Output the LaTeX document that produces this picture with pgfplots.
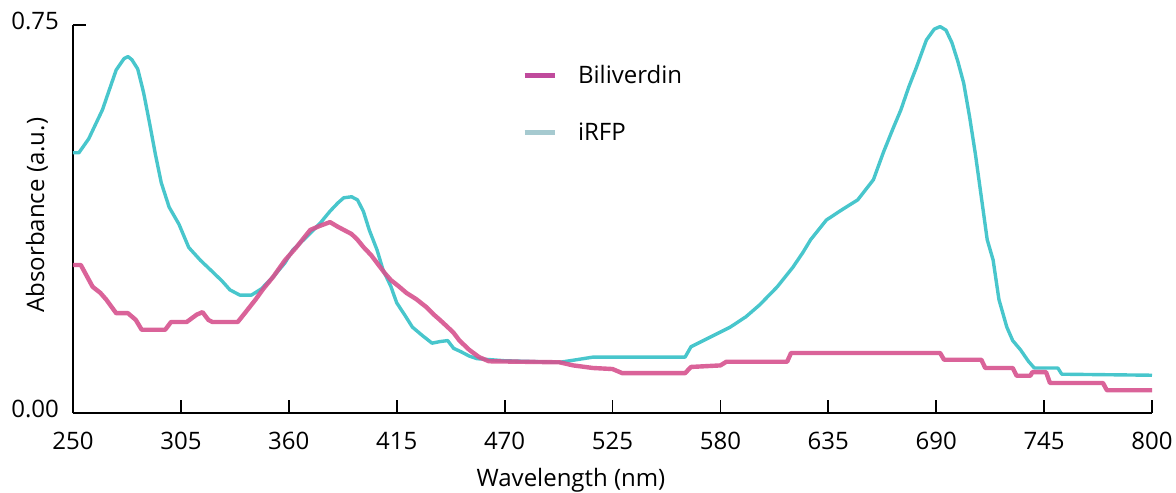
\documentclass[border=0pt]{standalone}
\usepackage{fontspec}
\setmainfont{Open Sans}
\usepackage{pgfplots}
\pgfplotsset{compat=1.18}
\usetikzlibrary{calc}

\definecolor{bvpink}{RGB}{214,82,142}
\definecolor{rfpcyan}{RGB}{72,198,204}
\definecolor{legpink}{RGB}{192,74,156}
\definecolor{legcyan}{RGB}{166,202,208}

\pgfplotstableread{
x y
250 0.503
253 0.503
258 0.530
265 0.586
272 0.663
276 0.685
278 0.689
280 0.683
283 0.665
286 0.619
289 0.561
292 0.500
295 0.445
299 0.398
304 0.365
309 0.320
315 0.295
320 0.277
326 0.255
330 0.238
335 0.228
341 0.228
346 0.240
352 0.263
358 0.290
362 0.315
369 0.340
376 0.367
381 0.390
385 0.406
388 0.416
392 0.418
395 0.412
398 0.390
401 0.354
405 0.315
408 0.277
412 0.245
415 0.213
419 0.190
423 0.166
428 0.150
433 0.135
437 0.138
441 0.140
444 0.125
448 0.118
452 0.110
456 0.105
470 0.101
498 0.098
505 0.102
515 0.108
540 0.108
562 0.108
565 0.128
575 0.147
585 0.166
593 0.186
600 0.209
609 0.244
617 0.282
622 0.310
626 0.335
634 0.373
642 0.393
650 0.412
658 0.451
663 0.503
668 0.550
672 0.586
676 0.630
680 0.669
685 0.721
689 0.742
692 0.747
695 0.740
698 0.716
701 0.680
704 0.638
707 0.573
710 0.500
712 0.445
714 0.390
716 0.335
719 0.296
722 0.219
726 0.166
729 0.140
733 0.122
737 0.100
740 0.087
752 0.087
754 0.075
800 0.073
}\irfp

\pgfplotstableread{
x y
250 0.286
254 0.286
257 0.265
260 0.244
264 0.232
267 0.219
272 0.193
278 0.193
282 0.180
285 0.161
297 0.161
300 0.176
308 0.176
313 0.190
316 0.195
319 0.180
321 0.176
334 0.176
338 0.195
343 0.219
347 0.240
352 0.263
358 0.295
364 0.321
368 0.340
371 0.354
376 0.362
381 0.369
385 0.360
388 0.354
392 0.346
395 0.335
398 0.321
402 0.305
405 0.290
409 0.270
412 0.257
416 0.245
420 0.232
425 0.220
430 0.205
434 0.190
437 0.180
441 0.166
444 0.155
447 0.140
452 0.122
457 0.108
462 0.100
498 0.098
505 0.092
515 0.087
525 0.085
530 0.077
562 0.077
565 0.089
580 0.092
583 0.099
614 0.099
616 0.116
692 0.116
694 0.103
713 0.103
715 0.087
729 0.087
731 0.072
738 0.072
739 0.079
746 0.079
748 0.058
775 0.058
777 0.044
800 0.044
}\biliv

\begin{document}
\begin{tikzpicture}
\begin{axis}[
  name=ax,
  scale only axis,
  width=539.5pt, height=194pt,
  xmin=250, xmax=800, ymin=0, ymax=0.75,
  axis lines=left,
  axis line style={-, line width=0.9pt},
  tick style={black, line width=0.9pt},
  tick align=inside,
  major tick length=6.5pt,
  xtick={250,305,...,800},
  ytick={0,0.75},
  font=\fontsize{12}{14}\selectfont,
  /pgf/number format/assume math mode=true,
  xticklabel style={yshift=-6pt},
  yticklabel style={/pgf/number format/fixed, /pgf/number format/fixed zerofill,
    /pgf/number format/precision=2, xshift=-3.5pt, yshift=2pt},
  xlabel={Wavelength (nm)},
  ylabel={Absorbance (a.u.)},
  xlabel style={at={(rel axis cs:0.4615,0)}, anchor=center, yshift=-33.5pt},
  ylabel style={at={(rel axis cs:0,0.51)}, anchor=center, yshift=18pt},
  legend cell align=left,
  legend style={at={(rel axis cs:0.416,0.897)}, anchor=north west, draw=none, fill=none,
    inner sep=0pt, row sep=19.5pt, font=\fontsize{12}{14}\selectfont,
    nodes={inner sep=0pt, text depth=0pt}},
  legend image code/.code={\draw[#1] (0pt,-0.5pt) -- (15pt,-0.5pt);},
]
\addlegendimage{legpink, line width=2.4pt}
\addlegendentry{\hspace{10.5pt}Biliverdin}
\addlegendimage{legcyan, line width=2.4pt}
\addlegendentry{\hspace{10.5pt}iRFP}
\addplot[forget plot, rfpcyan, line width=1.7pt, line join=round] table {\irfp};
\addplot[forget plot, bvpink, line width=2.2pt, line join=round, opacity=0.9] table {\biliv};
\end{axis}
\pgfresetboundingbox
\path[use as bounding box] ($(ax.south west)+(-36.5pt,-39.5pt)$) rectangle ($(ax.south west)+(551.5pt,206.5pt)$);
\end{tikzpicture}
\end{document}
